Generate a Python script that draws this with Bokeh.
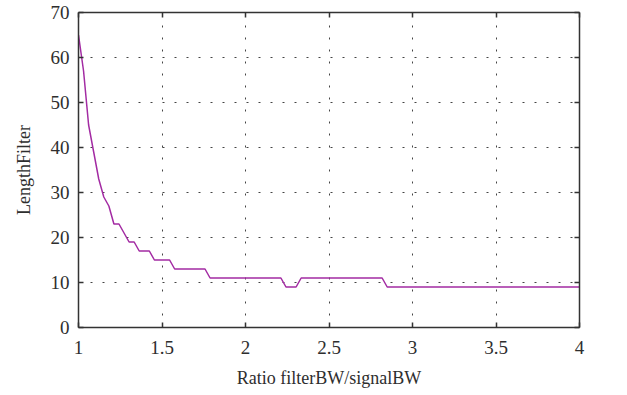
from bokeh.plotting import figure
from bokeh.models import Range1d, LinearAxis, FixedTicker
from bokeh.embed import file_html
from bokeh.resources import INLINE

# Sample positions (ratio filterBW / signalBW)
ratio = [
    1.0000, 1.0303, 1.0606, 1.0909, 1.1212, 1.1515, 1.1818, 1.2121, 1.2424, 1.2727,
    1.3030, 1.3333, 1.3636, 1.3939, 1.4242, 1.4545, 1.4848, 1.5152, 1.5455, 1.5758,
    1.6061, 1.6364, 1.6667, 1.6970, 1.7273, 1.7576, 1.7879, 1.8182, 1.8485, 1.8788,
    1.9091, 1.9394, 1.9697, 2.0000, 2.0303, 2.0606, 2.0909, 2.1212, 2.1515, 2.1818,
    2.2121, 2.2424, 2.2727, 2.3030, 2.3333, 2.3636, 2.3939, 2.4242, 2.4545, 2.4848,
    2.5152, 2.5455, 2.5758, 2.6061, 2.6364, 2.6667, 2.6970, 2.7273, 2.7576, 2.7879,
    2.8182, 2.8485, 2.8788, 2.9091, 2.9394, 2.9697, 3.0000, 3.0303, 3.0606, 3.0909,
    3.1212, 3.1515, 3.1818, 3.2121, 3.2424, 3.2727, 3.3030, 3.3333, 3.3636, 3.3939,
    3.4242, 3.4545, 3.4848, 3.5152, 3.5455, 3.5758, 3.6061, 3.6364, 3.6667, 3.6970,
    3.7273, 3.7576, 3.7879, 3.8182, 3.8485, 3.8788, 3.9091, 3.9394, 3.9697, 4.0000,
]

length_filter = [
    65, 57, 45, 39, 33, 29, 27, 23, 23, 21,
    19, 19, 17, 17, 17, 15, 15, 15, 15, 13,
    13, 13, 13, 13, 13, 13, 11, 11, 11, 11,
    11, 11, 11, 11, 11, 11, 11, 11, 11, 11,
    11, 9, 9, 9, 11, 11, 11, 11, 11, 11,
    11, 11, 11, 11, 11, 11, 11, 11, 11, 11,
    11, 9, 9, 9, 9, 9, 9, 9, 9, 9,
    9, 9, 9, 9, 9, 9, 9, 9, 9, 9,
    9, 9, 9, 9, 9, 9, 9, 9, 9, 9,
    9, 9, 9, 9, 9, 9, 9, 9, 9, 9,
]

x_ticks = [1, 1.5, 2, 2.5, 3, 3.5, 4]
x_tick_labels = ["1", "1.5", "2", "2.5", "3", "3.5", "4"]
y_ticks = [0, 10, 20, 30, 40, 50, 60, 70]
y_tick_labels = ["0", "10", "20", "30", "40", "50", "60", "70"]

x_label = "Ratio filterBW/signalBW"
y_label = "LengthFilter"

FONT = "Liberation Serif"
TEXT = "#2e2e2e"
AXIS = "#333333"

p = figure(width=620, height=392, output_backend="svg", toolbar_location=None,
           x_range=Range1d(1, 4), y_range=Range1d(0, 70),
           min_border_left=78, min_border_right=41, min_border_top=12,
           min_border_bottom=65, background_fill_color="white",
           border_fill_color="white", outline_line_color=None)

p.line(ratio, length_filter, line_color="#a32ba3", line_width=1.5)

xt = FixedTicker(ticks=x_ticks, minor_ticks=[])
yt = FixedTicker(ticks=y_ticks, minor_ticks=[])

bottom = p.below[0]
left = p.left[0]
bottom.ticker = xt
bottom.major_label_overrides = {t: l for t, l in zip(x_ticks, x_tick_labels)}
bottom.axis_label = x_label
left.ticker = yt
left.major_label_overrides = {t: l for t, l in zip(y_ticks, y_tick_labels)}
left.axis_label = y_label

# box axes on the top and right: inward ticks only, no labels drawn
top = LinearAxis(ticker=xt, major_label_text_color=None,
                 major_label_text_font_size="1px", major_label_standoff=0)
right = LinearAxis(ticker=yt, major_label_text_color=None,
                   major_label_text_font_size="1px", major_label_standoff=0)
p.add_layout(top, "above")
p.add_layout(right, "right")

for ax in (bottom, left, top, right):
    ax.axis_line_color = AXIS
    ax.axis_line_width = 1.5
    ax.major_tick_line_color = AXIS
    ax.major_tick_line_width = 1.5
    ax.major_tick_in = 5
    ax.major_tick_out = 0
    ax.minor_tick_line_color = None

for ax in (bottom, left):
    ax.major_label_text_font = FONT
    ax.major_label_text_color = TEXT
    ax.major_label_text_font_size = "19px"
    ax.axis_label_text_font = FONT
    ax.axis_label_text_color = TEXT
    ax.axis_label_text_font_style = "normal"
    ax.axis_label_text_font_size = "18px"

bottom.major_label_standoff = 13
bottom.axis_label_standoff = 11
left.major_label_standoff = 9
left.axis_label_standoff = 14

for g in (p.xgrid[0], p.ygrid[0]):
    g.grid_line_color = "#444444"
    g.grid_line_dash = "2 10"
    g.grid_line_width = 1
p.xgrid[0].ticker = xt
p.ygrid[0].ticker = yt

open("out.html", "w").write(file_html(p, INLINE))
